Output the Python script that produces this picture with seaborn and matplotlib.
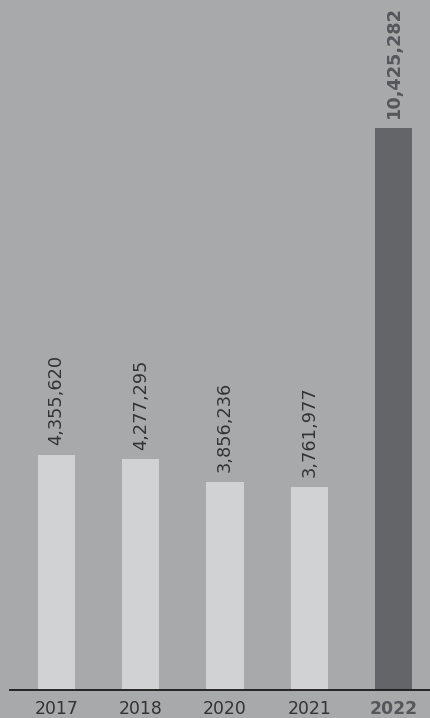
import matplotlib
matplotlib.use("Agg")
import matplotlib.pyplot as plt
import seaborn as sns

years = ["2017", "2018", "2020", "2021", "2022"]
visitors = [4355620, 4277295, 3856236, 3761977, 10425282]
bar_colors = ["#d1d2d4", "#d1d2d4", "#d1d2d4", "#d1d2d4", "#636569"]

BG = "#a8a9ab"

sns.set_style("white")
plt.rcParams["font.family"] = ["DejaVu Sans"]

fig = plt.figure(figsize=(4.31, 7.18), dpi=100, facecolor=BG)
ax = fig.add_axes([10 / 431, 28 / 718, 421 / 431, 690 / 718])
ax.set_facecolor(BG)

sns.barplot(x=years, y=visitors, hue=years, palette=bar_colors, legend=False,
            width=0.44, saturation=1, linewidth=0, ax=ax)

ax.set_xlim(-0.552, 4.445)
ax.set_ylim(0, 12_800_000)

for i, v in enumerate(visitors):
    last = i == len(visitors) - 1
    ax.annotate(f"{v:,}", (i, v), xytext=(0, 7), textcoords="offset points",
                rotation=90, ha="center", va="bottom", fontsize=12.8,
                color="#55575b" if last else "#333333",
                fontweight="bold" if last else "normal")

for s in ["top", "left", "right"]:
    ax.spines[s].set_visible(False)
ax.spines["bottom"].set_color("#1a1a1a")
ax.spines["bottom"].set_linewidth(1.3)

ax.set_yticks([])
ax.tick_params(axis="x", length=0, pad=7, labelsize=12.4, labelcolor="#333333")
tl = ax.get_xticklabels()
tl[-1].set_fontweight("bold")
tl[-1].set_color("#55575b")
ax.set_xlabel("")
ax.set_ylabel("")

fig.savefig("out.png", dpi=100, facecolor=BG)
